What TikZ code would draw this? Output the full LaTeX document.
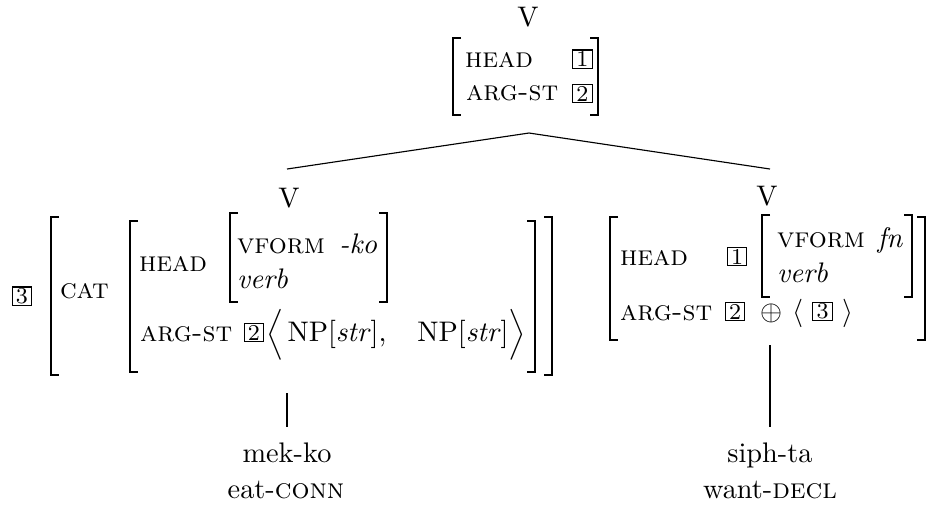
\documentclass[tikz,border=0pt]{standalone}
\usepackage{amsmath}
\newcommand{\avmL}[3]{\draw[brk] (#1+8,#2) -- (#1,#2) -- (#1,#3) -- (#1+8,#3);}
\newcommand{\avmR}[3]{\draw[brk] (#1-8,#2) -- (#1,#2) -- (#1,#3) -- (#1-8,#3);}
\begin{document}
\begin{tikzpicture}[x=0.3534pt,y=-0.3534pt,
  every node/.style={inner sep=0pt, outer sep=0pt},
  lbl/.style={anchor=base},
  bw/.style={anchor=base west},
  be/.style={anchor=base east},
  tagb/.style={draw, line width=0.4pt, inner sep=0pt, minimum width=6.8pt, minimum height=6.4pt, font=\footnotesize},
  brk/.style={line width=0.6pt},
  edge/.style={line width=0.4pt}]
\useasboundingbox (0,0) rectangle (927,509);
% category labels
\node[lbl] (v0) at (528,26) {V};
\node[lbl] (v1) at (289,207) {V};
\node[lbl] (v2) at (767,205) {V};
% ---- top AVM
\avmL{453}{38}{115} \avmR{598}{38}{115}
\node[bw] (h0) at (465,67) {\textsc{head}};
\node[bw] (s0) at (466,100) {\textsc{arg-st}};
\node[tagb] (t01) at (582.5,59) {1};
\node[tagb] (t02) at (582.5,93.5) {2};
% ---- left AVM
\node[tagb] (t3) at (22,296) {3};
\avmL{51}{217}{375} \avmR{552}{217}{375}
\node[bw] (cat) at (60,298) {\textsc{cat}};
\avmL{130}{221}{372} \avmR{535}{221}{372}
\node[bw] (h1) at (139,271) {\textsc{head}};
\avmL{230}{213}{302} \avmR{387}{213}{302}
\node[bw] (vf1) at (237,253) {\textsc{vform}};
\node[be] (ko) at (377,253) {\textit{-ko}};
\node[bw] (vb1) at (237,288) {\textit{verb}};
\node[bw] (s1) at (140,341) {\textsc{arg-st}};
\node[tagb] (t12) at (254,332.5) {2};
\node[anchor=west] (la1) at (266,335) {$\Bigl\langle$};
\node[lbl] (np1) at (337,341) {NP[\textit{str}],};
\node[lbl] (np2) at (463,341) {NP[\textit{str}]};
\node[anchor=east] (ra1) at (526,335) {$\Bigr\rangle$};
% ---- right AVM
\avmL{610}{217}{340} \avmR{925}{217}{340}
\node[bw] (h2) at (620,265) {\textsc{head}};
\node[tagb] (t21) at (737,256.5) {1};
\avmL{762}{215}{297} \avmR{912}{215}{297}
\node[bw] (vf2) at (777,247) {\textsc{vform}};
\node[be] (fn) at (903,247) {\textit{fn}};
\node[bw] (vb2) at (777,282) {\textit{verb}};
\node[bw] (s2) at (620,320) {\textsc{arg-st}};
\node[tagb] (t22) at (735,311.5) {2};
\node (op) at (771,313) {$\oplus$};
\node[anchor=west] (la2) at (792,313) {$\langle$};
\node[tagb] (t23) at (822.5,311.5) {3};
\node[anchor=east] (ra2) at (853,313) {$\rangle$};
% ---- leaves
\node[lbl] (w1) at (287,462) {mek-ko};
\node[lbl] (g1) at (286,498) {eat-\textsc{conn}};
\node[lbl] (w2) at (770,462) {siph-ta};
\node[lbl] (g2) at (770,498) {want-\textsc{decl}};
% ---- connectors
\coordinate (top) at (529,133);
\coordinate (lt) at (287,169);
\coordinate (rt) at (770,169);
\coordinate (lb) at (287,393);
\coordinate (lw) at (287,427);
\coordinate (rb) at (770,345);
\coordinate (rw) at (770,427);
\draw[edge] (top) -- (lt);
\draw[edge] (top) -- (rt);
\draw[edge] (lb) -- (lw);
\draw[edge] (rb) -- (rw);
\end{tikzpicture}
\end{document}
